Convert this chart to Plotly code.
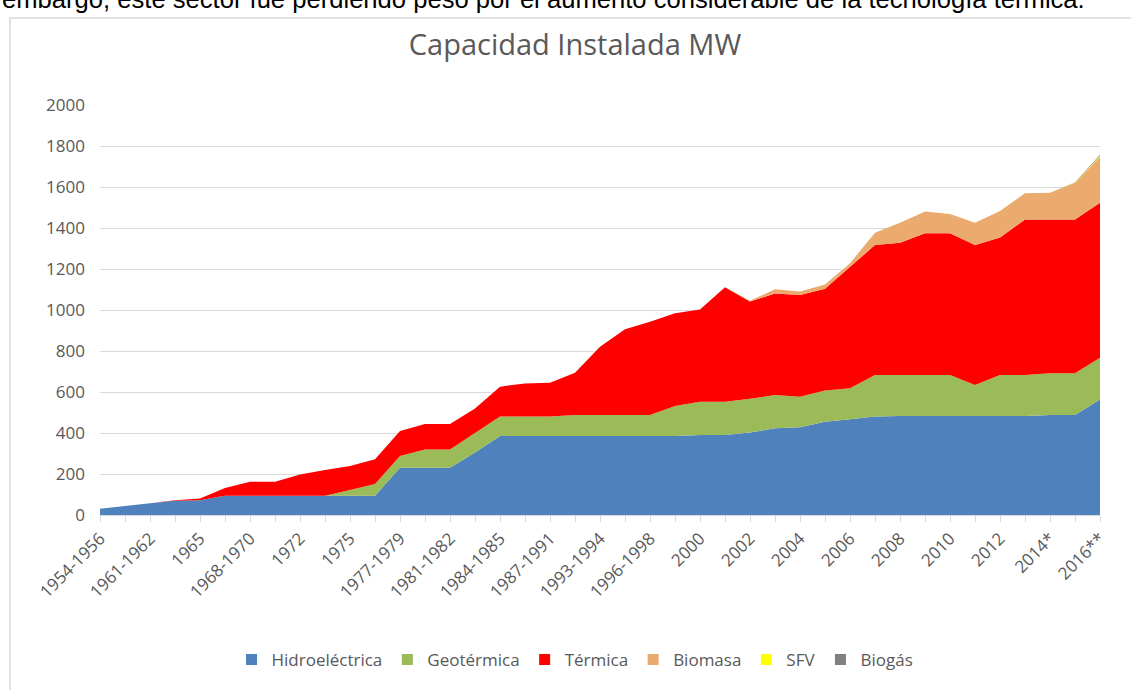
import plotly.graph_objects as go

categories = ["1954-1956", "1957-1960", "1961-1962", "1963-1964", "1965", "1966-1967",
              "1968-1970", "1971", "1972", "1973-1974", "1975", "1976", "1977-1979",
              "1980", "1981-1982", "1983", "1984-1985", "1986", "1987-1991", "1992",
              "1993-1994", "1995", "1996-1998", "1999", "2000", "2001", "2002", "2003",
              "2004", "2005", "2006", "2007", "2008", "2009", "2010", "2011", "2012",
              "2013", "2014*", "2015*", "2016**"]

hidroelectrica = [30, 42, 57, 70, 72, 94, 94, 94, 94, 94, 94, 94, 230, 230, 230, 305, 385,
                  385, 385, 385, 385, 385, 385, 385, 390, 390, 402, 423, 428, 455, 467, 480,
                  483, 483, 483, 483, 483, 483, 488, 488, 564]
geotermica = [0, 0, 0, 0, 0, 0, 0, 0, 0, 0, 28, 57, 58, 90, 90, 95, 95, 95, 95, 103, 103,
              103, 103, 147, 163, 163, 165, 162, 149, 152, 151, 203, 200, 200, 200, 151,
              200, 200, 203, 203, 203]
termica = [0, 0, 0, 2, 8, 38, 68, 68, 104, 126, 117, 121, 122, 124, 124, 120, 146, 162,
           165, 206, 333, 418, 455, 452, 450, 558, 474, 496, 496, 497, 593, 634, 645, 691,
           691, 683, 671, 759, 751, 751, 756]
biomasa = [0, 0, 0, 0, 0, 0, 0, 0, 0, 0, 0, 0, 0, 0, 0, 0, 0, 0, 0, 0, 0, 0, 0, 0, 0, 0,
           4, 20, 17, 20, 17, 60, 98, 106, 94, 109, 129, 127, 130, 179, 225]
sfv = [0] * 39 + [1, 5]
biogas = [0] * 39 + [1, 4]

shown_labels = categories[::2]
ticktext = [c if c in shown_labels else "" for c in categories]

series = [
    ("Hidroeléctrica", hidroelectrica, "#4F81BD"),
    ("Geotérmica", geotermica, "#9BBB59"),
    ("Térmica", termica, "#FF0000"),
    ("Biomasa", biomasa, "#EBAA6E"),
    ("SFV", sfv, "#FFFF00"),
    ("Biogás", biogas, "#808080"),
]

fig = go.Figure()
for name, vals, col in series:
    fig.add_trace(go.Scatter(
        x=categories, y=vals, name=name, mode="lines", legendgroup=name,
        showlegend=False, hoverinfo="x+y+name",
        stackgroup="one", line=dict(width=0, color=col), fillcolor=col,
    ))
# legend entries drawn as small squares, like the original
for name, vals, col in series:
    fig.add_trace(go.Scatter(
        x=[None], y=[None], name=name, mode="markers", legendgroup=name,
        marker=dict(symbol="square", size=11, color=col),
    ))

L, R, T, B = 100, 31, 105, 175
W, H = 1131, 690
pw, ph = W - L - R, H - T - B


def px_x(p):
    return (p - L) / pw


def px_y(p):
    return (H - B - p) / ph


fig.update_layout(
    width=W, height=H,
    margin=dict(l=L, r=R, t=T, b=B),
    paper_bgcolor="white", plot_bgcolor="white",
    font=dict(family="Open Sans, Liberation Sans, sans-serif", color="#595959"),
    title=dict(text="Capacidad Instalada MW", x=575 / W, xanchor="center",
               y=1 - 45 / H, yanchor="middle",
               font=dict(size=29, color="#595959")),
    showlegend=True,
    legend=dict(orientation="h", x=px_x(575), xanchor="center", y=px_y(660),
                yanchor="middle", font=dict(size=17, color="#595959"),
                itemwidth=30, traceorder="normal"),
    xaxis=dict(type="category", range=[0, len(categories) - 1],
               tickmode="array", tickvals=categories, ticktext=ticktext,
               tickangle=-45, tickfont=dict(size=17, color="#595959"),
               ticks="outside", ticklen=6, tickcolor="#D9D9D9",
               showline=True, linecolor="#D9D9D9", linewidth=1,
               showgrid=False, zeroline=False),
    yaxis=dict(range=[0, 2000], tickvals=list(range(0, 2001, 200)),
               tickfont=dict(size=17, color="#595959"),
               showgrid=True, gridcolor="#D9D9D9", gridwidth=1,
               zeroline=False, showline=False, ticklabelstandoff=14),
    shapes=[dict(type="rect", xref="paper", yref="paper",
                 x0=px_x(10), x1=px_x(1140), y0=px_y(700), y1=px_y(18),
                 line=dict(color="#D9D9D9", width=1.5), fillcolor="rgba(0,0,0,0)",
                 layer="below")],
    annotations=[dict(
        text="embargo, este sector fue perdiendo peso por el aumento considerable de la tecnología térmica.",
        xref="paper", yref="paper", x=px_x(0), xanchor="left",
        y=px_y(-1), yanchor="middle", showarrow=False,
        font=dict(size=25.6, color="black", family="Liberation Sans, sans-serif"))],
)

fig.write_html("out.html", config={"displayModeBar": False},
               post_script="document.body.style.margin='0';")
